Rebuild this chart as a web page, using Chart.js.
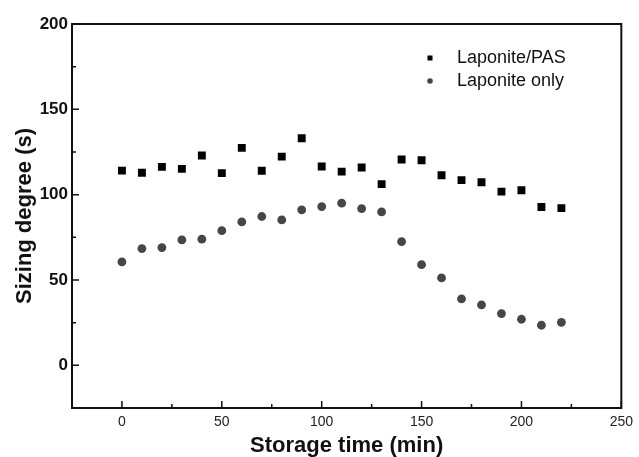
<!DOCTYPE html>
<html>
<head>
<meta charset="utf-8">
<script src="https://cdn.jsdelivr.net/npm/chart.js@4.4.0/dist/chart.umd.min.js"></script>
<style>
  html, body { margin: 0; padding: 0; background: #fff; }
</style>
</head>
<body>
<canvas id="myChart" width="639" height="457"></canvas>
<script>
// storage time (min)
const times = [0, 10, 20, 30, 40, 50, 60, 70, 80, 90, 100, 110, 120, 130, 140, 150, 160, 170, 180, 190, 200, 210, 220];
// sizing degree (s)
const pasValues = [114.1, 112.8, 116.3, 115.1, 122.9, 112.6, 127.4, 114.0, 122.3, 133.1, 116.5, 113.5, 115.9, 106.2, 120.6, 120.2, 111.4, 108.5, 107.3, 101.8, 102.6, 92.8, 92.1];
const onlyValues = [60.6, 68.4, 69.0, 73.5, 73.9, 78.9, 84.0, 87.2, 85.2, 91.1, 93.0, 95.0, 91.8, 89.9, 72.5, 59.0, 51.2, 38.9, 35.4, 30.3, 27.0, 23.5, 25.2];
const seriesNames = ['Laponite/PAS', 'Laponite only'];
const xTicks = [0, 50, 100, 150, 200, 250];
const yTicks = [0, 50, 100, 150, 200];

const ctx = document.getElementById('myChart').getContext('2d');
const fontFam = '"Liberation Sans", Arial, sans-serif';

function toPoints(xs, ys) {
  return xs.map((x, i) => ({ x: x, y: ys[i] }));
}

// frame, inward ticks and the little legend inside the plot
const frameAndTicks = {
  id: 'frameAndTicks',
  afterDraw(chart) {
    const c = chart.ctx;
    const a = chart.chartArea;
    const xs = chart.scales.x;
    const ys = chart.scales.y;
    c.save();
    c.strokeStyle = '#111';
    c.lineWidth = 2;
    c.strokeRect(a.left, a.top, a.right - a.left, a.bottom - a.top);

    c.lineWidth = 1.5;
    c.beginPath();
    xTicks.forEach((v, i) => {
      const px = xs.getPixelForValue(v);
      c.moveTo(px, a.bottom);
      c.lineTo(px, a.bottom - 7);
      if (i < xTicks.length - 1) {
        const mx = xs.getPixelForValue((v + xTicks[i + 1]) / 2);
        c.moveTo(mx, a.bottom);
        c.lineTo(mx, a.bottom - 4);
      }
    });
    yTicks.forEach((v, i) => {
      const py = ys.getPixelForValue(v);
      c.moveTo(a.left, py);
      c.lineTo(a.left + 7, py);
      if (i < yTicks.length - 1) {
        const my = ys.getPixelForValue((v + yTicks[i + 1]) / 2);
        c.moveTo(a.left, my);
        c.lineTo(a.left + 4, my);
      }
    });
    c.stroke();

    // legend
    const lx = 430, ly = [58, 81];
    chart.data.datasets.forEach((ds, i) => {
      c.fillStyle = ds.backgroundColor;
      if (ds.pointStyle === 'rect') {
        c.fillRect(lx - 2.5, ly[i] - 2.5, 5, 5);
      } else {
        c.beginPath();
        c.arc(lx, ly[i], 2.8, 0, Math.PI * 2);
        c.fill();
      }
      c.fillStyle = '#111';
      c.font = '18px ' + fontFam;
      c.textBaseline = 'middle';
      c.textAlign = 'left';
      c.fillText(ds.label, 457, ly[i]);
    });
    c.restore();
  }
};

const myChart = new Chart(ctx, {
  type: 'scatter',
  data: {
    datasets: [{
      label: seriesNames[0],
      data: toPoints(times, pasValues),
      pointStyle: 'rect',
      pointRadius: 5.6,
      pointHoverRadius: 5.6,
      backgroundColor: '#000',
      borderWidth: 0
    }, {
      label: seriesNames[1],
      data: toPoints(times, onlyValues),
      pointStyle: 'circle',
      pointRadius: 4.4,
      pointHoverRadius: 4.4,
      backgroundColor: '#464646',
      borderWidth: 0
    }]
  },
  options: {
    responsive: false,
    animation: false,
    devicePixelRatio: 1,
    layout: { padding: { top: 24, right: 14, left: 0, bottom: 0 } },
    plugins: {
      legend: { display: false },
      tooltip: { enabled: false }
    },
    scales: {
      x: {
        type: 'linear',
        min: -25,
        max: 250,
        grid: { display: false, drawTicks: false },
        border: { display: false },
        afterBuildTicks: s => { s.ticks = xTicks.map(v => ({ value: v })); },
        afterFit: s => { s.height = 49; },
        ticks: {
          font: { family: fontFam, size: 14 },
          color: '#222',
          padding: 6,
          maxRotation: 0
        },
        title: {
          display: true,
          text: 'Storage time (min)',
          color: '#111',
          font: { family: fontFam, size: 22, weight: 'bold', lineHeight: 1 },
          padding: { top: 0, bottom: 0 }
        }
      },
      y: {
        type: 'linear',
        min: -25,
        max: 200,
        grid: { display: false, drawTicks: false },
        border: { display: false },
        afterBuildTicks: s => { s.ticks = yTicks.map(v => ({ value: v })); },
        afterFit: s => { s.width = 72; },
        ticks: {
          font: { family: fontFam, size: 17, weight: 'bold' },
          color: '#111',
          padding: 4
        },
        title: {
          display: true,
          text: 'Sizing degree (s)',
          color: '#111',
          font: { family: fontFam, size: 22, weight: 'bold', lineHeight: 1 },
          padding: { top: 14, bottom: 0 }
        }
      }
    }
  },
  plugins: [frameAndTicks]
});
</script>
</body>
</html>
